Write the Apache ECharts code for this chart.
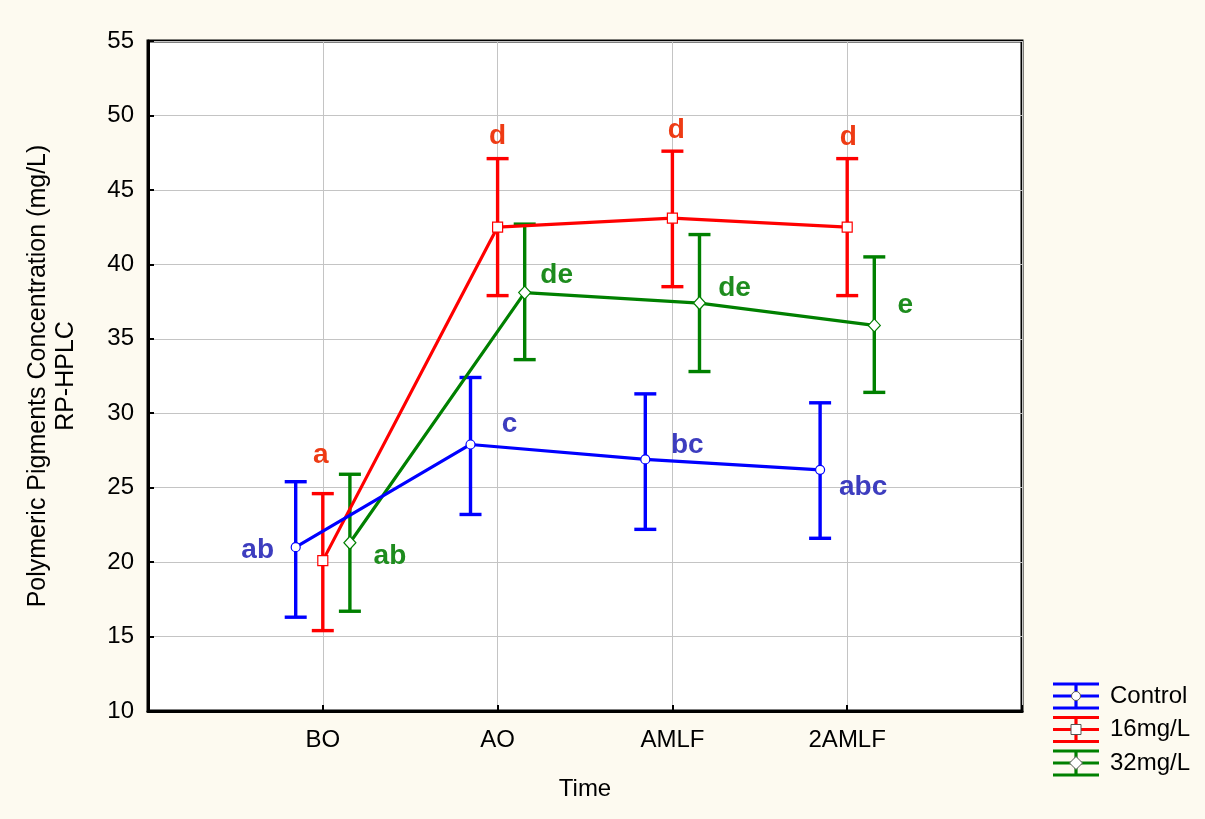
<!DOCTYPE html>
<html>
<head>
<meta charset="utf-8">
<script src="https://cdn.jsdelivr.net/npm/echarts@6/dist/echarts.min.js"></script>
<style>
html,body{margin:0;padding:0;background:#fdfaf0;}
#chart{width:1205px;height:819px;}
</style>
</head>
<body>
<div id="chart"></div>
<script>
// ---- data ----
const categories = ['BO', 'AO', 'AMLF', '2AMLF'];
const seriesNames = ['Control', '16mg/L', '32mg/L'];
const controlMean = [21.0, 27.9, 26.9, 26.2];
const controlLow  = [16.3, 23.2, 22.2, 21.6];
const controlHigh = [25.4, 32.4, 31.3, 30.7];
const c16Mean = [20.1, 42.5, 43.1, 42.5];
const c16Low  = [15.4, 37.9, 38.5, 37.9];
const c16High = [24.6, 47.1, 47.6, 47.1];
const c32Mean = [21.3, 38.1, 37.4, 35.9];
const c32Low  = [16.7, 33.6, 32.8, 31.4];
const c32High = [25.9, 42.7, 42.0, 40.5];
const controlLetters = ['ab', 'c', 'bc', 'abc'];
const c16Letters = ['a', 'd', 'd', 'd'];
const c32Letters = ['ab', 'de', 'de', 'e'];
const yTicks = [10, 15, 20, 25, 30, 35, 40, 45, 50, 55];

// ---- styles ----
const FONT = '"Liberation Sans", Arial, sans-serif';
const groups = [
  { name: seriesNames[2], mean: c32Mean, lo: c32Low, hi: c32High, letters: c32Letters,
    color: '#008000', labelColor: '#1e8c1e', shift: 0.155, symbol: 'diamond', symbolSize: [12, 13],
    labelOffsets: [[40, 14], [32, -17], [35, -15], [31, -20]] },
  { name: seriesNames[1], mean: c16Mean, lo: c16Low, hi: c16High, letters: c16Letters,
    color: '#ff0000', labelColor: '#ee3b14', shift: 0, symbol: 'rect', symbolSize: 10,
    labelOffsets: [[-2, -105], [0, -91], [4, -88], [1, -90]] },
  { name: seriesNames[0], mean: controlMean, lo: controlLow, hi: controlHigh, letters: controlLetters,
    color: '#0000ff', labelColor: '#3d3dbf', shift: -0.155, symbol: 'circle', symbolSize: 9,
    labelOffsets: [[-38, 3], [39, -20], [42, -14], [43, 17]] }
];

const series = [];
groups.forEach(g => {
  series.push({
    type: 'custom',
    name: g.name + ' err',
    z: 2,
    silent: true,
    data: g.mean.map((m, i) => [i + 1 + g.shift, g.lo[i], g.hi[i]]),
    encode: { x: 0, y: [1, 2] },
    renderItem: (params, api) => {
      const x = api.value(0);
      const top = api.coord([x, api.value(2)]);
      const bot = api.coord([x, api.value(1)]);
      const w = 11;
      const st = { stroke: g.color, lineWidth: 3.4 };
      return { type: 'group', children: [
        { type: 'line', shape: { x1: top[0], y1: top[1], x2: bot[0], y2: bot[1] }, style: st },
        { type: 'line', shape: { x1: top[0] - w, y1: top[1], x2: top[0] + w, y2: top[1] }, style: st },
        { type: 'line', shape: { x1: bot[0] - w, y1: bot[1], x2: bot[0] + w, y2: bot[1] }, style: st }
      ]};
    }
  });
  series.push({
    type: 'line',
    name: g.name,
    z: 3,
    symbol: g.symbol,
    symbolSize: g.symbolSize,
    showAllSymbol: true,
    lineStyle: { color: g.color, width: 3.2 },
    itemStyle: { color: '#ffffff', borderColor: g.color, borderWidth: 1.2 },
    data: g.mean.map((m, i) => ({
      value: [i + 1 + g.shift, m],
      label: {
        show: true, position: 'inside', offset: g.labelOffsets[i],
        formatter: g.letters[i], color: g.labelColor,
        fontSize: 28, fontWeight: 'bold', fontFamily: FONT
      }
    }))
  });
});

// legend drawn as graphic (error-bar style icons)
const legendItems = [
  { text: seriesNames[0], color: '#0000ff', shape: 'circle' },
  { text: seriesNames[1], color: '#ff0000', shape: 'rect' },
  { text: seriesNames[2], color: '#008000', shape: 'diamond' }
];
const graphic = [];
legendItems.forEach((it, k) => {
  const cy = 696 + k * 33.5;
  const x0 = 1053, x1 = 1099, xc = 1076;
  const st = { stroke: it.color, lineWidth: 3.2 };
  graphic.push({ type: 'line', shape: { x1: x0, y1: cy - 12, x2: x1, y2: cy - 12 }, style: st });
  graphic.push({ type: 'line', shape: { x1: x0, y1: cy, x2: x1, y2: cy }, style: st });
  graphic.push({ type: 'line', shape: { x1: x0, y1: cy + 12, x2: x1, y2: cy + 12 }, style: st });
  graphic.push({ type: 'line', shape: { x1: xc, y1: cy - 12, x2: xc, y2: cy + 12 }, style: st });
  const mst = { fill: '#fff', stroke: '#555', lineWidth: 1 };
  if (it.shape === 'circle') graphic.push({ type: 'circle', shape: { cx: xc, cy: cy, r: 4.5 }, style: mst });
  else if (it.shape === 'rect') graphic.push({ type: 'rect', shape: { x: xc - 5, y: cy - 5, width: 10, height: 10 }, style: mst });
  else graphic.push({ type: 'polygon', shape: { points: [[xc, cy - 6.5], [xc + 6.5, cy], [xc, cy + 6.5], [xc - 6.5, cy]] }, style: mst });
  graphic.push({ type: 'text', x: 1110, y: cy, style: { text: it.text, fill: '#000', font: '24px ' + FONT, textVerticalAlign: 'middle', verticalAlign: 'middle' } });
});

const chart = echarts.init(document.getElementById('chart'), null, { renderer: 'canvas' });
chart.setOption({
  animation: false,
  backgroundColor: '#fdfaf0',
  textStyle: { fontFamily: FONT },
  grid: {
    left: 148, right: 183, top: 41, bottom: 108,
    show: true, backgroundColor: '#ffffff', borderColor: '#000', borderWidth: 3
  },
  xAxis: {
    type: 'value', min: 0, max: 5, interval: 1,
    name: 'Time', nameLocation: 'middle', nameGap: 66,
    nameTextStyle: { fontSize: 24, color: '#000', fontFamily: FONT },
    axisLine: { show: true, lineStyle: { color: '#000', width: 3 } },
    axisTick: { show: true, inside: true, length: 6, lineStyle: { color: '#000', width: 2 } },
    axisLabel: { fontSize: 24, color: '#000', margin: 17, fontFamily: FONT,
      formatter: v => (v >= 1 && v <= categories.length) ? categories[v - 1] : '' },
    splitLine: { show: true, lineStyle: { color: '#c4c4c4', width: 1 } }
  },
  yAxis: {
    type: 'value', min: yTicks[0], max: yTicks[yTicks.length - 1], interval: 5,
    name: 'Polymeric Pigments Concentration (mg/L)\nRP-HPLC',
    nameLocation: 'middle', nameGap: 68, nameRotate: 90,
    nameTextStyle: { fontSize: 25, color: '#000', lineHeight: 28, fontFamily: FONT },
    axisLine: { show: true, lineStyle: { color: '#000', width: 3 } },
    axisTick: { show: true, inside: true, length: 6, lineStyle: { color: '#000', width: 2 } },
    axisLabel: { fontSize: 24, color: '#000', margin: 14, fontFamily: FONT },
    splitLine: { show: true, lineStyle: { color: '#c4c4c4', width: 1 } }
  },
  series: series,
  graphic: graphic
});
</script>
</body>
</html>
